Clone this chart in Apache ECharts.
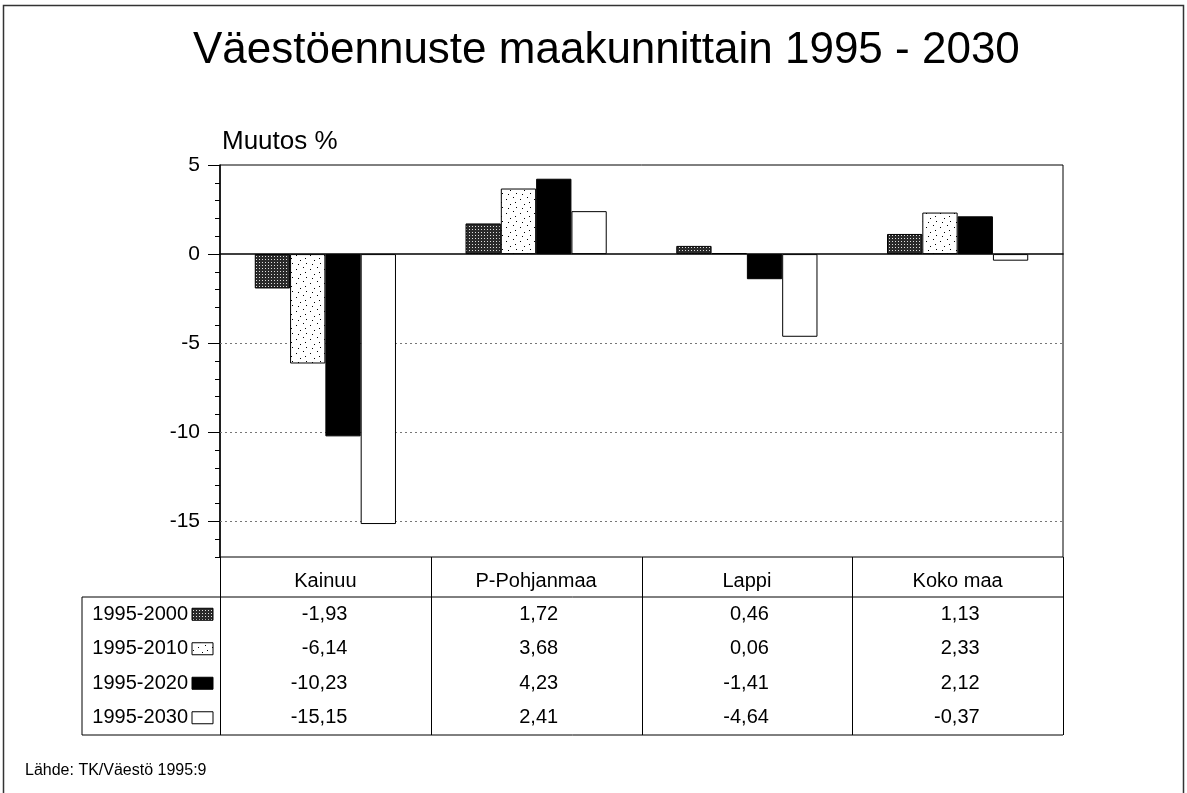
<!DOCTYPE html>
<html>
<head>
<meta charset="utf-8">
<title>Väestöennuste maakunnittain 1995 - 2030</title>
<script src="https://cdn.jsdelivr.net/npm/echarts@6/dist/echarts.min.js"></script>
<style>
html, body { margin: 0; padding: 0; background: #fff; }
#chart1 { width: 1187px; height: 793px; }
</style>
</head>
<body>
<div id="chart1"></div>
<script>
// data
const regions = ['Kainuu', 'P-Pohjanmaa', 'Lappi', 'Koko maa'];
const periods = ['1995-2000', '1995-2010', '1995-2020', '1995-2030'];
const v2000 = [-1.93, 1.72, 0.46, 1.13];
const v2010 = [-6.14, 3.68, 0.06, 2.33];
const v2020 = [-10.23, 4.23, -1.41, 2.12];
const v2030 = [-15.15, 2.41, -4.64, -0.37];
const majorTicks = [5, 0, -5, -10, -15];
const gridValues = [-5, -10, -15];
const yMin = -17, yMax = 5;

const FONT = 'Liberation Sans, Arial, Helvetica, sans-serif';

// fill patterns like the old b/w print
function makePattern(size, bg, fg, dots) {
  const c = document.createElement('canvas');
  c.width = size; c.height = size;
  const ctx = c.getContext('2d');
  ctx.fillStyle = bg;
  ctx.fillRect(0, 0, size, size);
  ctx.fillStyle = fg;
  dots.forEach(function (d) { ctx.fillRect(d[0], d[1], 1, 1); });
  return { image: c, repeat: 'repeat' };
}
const hatch = makePattern(3, '#2a2a2a', '#e0e0e0', [[1, 1]]);
const dotted = makePattern(14, '#fff', '#000', [[2, 3], [9, 1], [6, 8], [12, 11], [4, 12], [11, 6]]);
const fills = [hatch, dotted, '#000', '#fff'];
const seriesData = [v2000, v2010, v2020, v2030];

const chart = echarts.init(document.getElementById('chart1'));

chart.setOption({
  animation: false,
  backgroundColor: '#fff',
  textStyle: { fontFamily: FONT, color: '#000' },
  title: {
    text: 'Väestöennuste maakunnittain 1995 - 2030',
    left: 188,
    top: 24,
    textStyle: { fontSize: 44, fontWeight: 'normal', color: '#000', fontFamily: FONT }
  },
  grid: {
    left: 220,
    top: 165,
    right: 124,
    bottom: 236,
    show: true,
    borderColor: '#000',
    borderWidth: 1,
    backgroundColor: 'transparent'
  },
  xAxis: {
    type: 'category',
    data: regions,
    axisLine: { show: true, onZero: true, lineStyle: { color: '#000', width: 1.5 } },
    axisTick: { show: false },
    axisLabel: { show: false },
    splitLine: { show: false }
  },
  yAxis: [{
    type: 'value',
    position: 'left',
    min: yMin,
    max: yMax,
    interval: 1,
    axisLine: { show: true, lineStyle: { color: '#000', width: 1.5 } },
    axisTick: { show: true, length: 5, lineStyle: { color: '#000' } },
    axisLabel: { show: false },
    splitLine: { show: false }
  }, {
    type: 'value',
    position: 'left',
    min: yMin,
    max: yMax,
    interval: 1,
    axisLine: { show: false },
    axisTick: { show: true, length: 12, customValues: majorTicks, lineStyle: { color: '#000' } },
    axisLabel: {
      show: true,
      customValues: majorTicks,
      margin: 20,
      fontSize: 21,
      color: '#000',
      fontFamily: FONT
    },
    splitLine: { show: false }
  }],
  series: periods.map(function (p, i) {
    const s = {
      name: p,
      type: 'bar',
      data: seriesData[i],
      barGap: '0%',
      barCategoryGap: '33%',
      z: 3,
      itemStyle: { color: fills[i], borderColor: '#000', borderWidth: 1 }
    };
    if (i === 0) {
      s.markLine = {
        silent: true,
        z: 1,
        symbol: 'none',
        label: { show: false },
        lineStyle: { color: '#777', type: [2, 3], width: 1 },
        data: gridValues.map(function (v) { return { yAxis: v }; })
      };
    }
    return s;
  })
});

// data table under the plot, laid out from the axis positions
const c0 = chart.convertToPixel({ xAxisIndex: 0 }, regions[0]);
const c1 = chart.convertToPixel({ xAxisIndex: 0 }, regions[1]);
const band = c1 - c0;
const gLeft = c0 - band / 2;
const gRight = gLeft + band * regions.length;
const gBottom = chart.convertToPixel({ yAxisIndex: 0 }, yMin);
const gTop = chart.convertToPixel({ yAxisIndex: 0 }, yMax);

const headerH = 40;
const rowH = 34.5;
const boxLeft = 82;
const headBottom = gBottom + headerH;
const tableBottom = headBottom + rowH * periods.length;

const lineStyle = { stroke: '#000', lineWidth: 1 };
const g = [];

for (let k = 0; k <= regions.length; k++) {
  const x = Math.round(gLeft + k * band) + 0.5;
  g.push({ type: 'line', shape: { x1: x, y1: gBottom, x2: x, y2: tableBottom }, style: lineStyle, silent: true });
}
g.push({ type: 'line', shape: { x1: boxLeft, y1: headBottom, x2: boxLeft, y2: tableBottom }, style: lineStyle, silent: true });
g.push({ type: 'line', shape: { x1: boxLeft, y1: headBottom, x2: gRight, y2: headBottom }, style: lineStyle, silent: true });
g.push({ type: 'line', shape: { x1: boxLeft, y1: tableBottom, x2: gRight, y2: tableBottom }, style: lineStyle, silent: true });

regions.forEach(function (r, j) {
  const cx = gLeft + band * (j + 0.5);
  g.push({
    type: 'text', silent: true,
    x: cx, y: gBottom + headerH / 2 + 4,
    style: { text: r, fontSize: 20, fontFamily: FONT, fill: '#000', align: 'center', verticalAlign: 'middle' }
  });
  seriesData.forEach(function (arr, i) {
    g.push({
      type: 'text', silent: true,
      x: cx + 22, y: headBottom + rowH * (i + 0.5),
      style: { text: arr[j].toFixed(2).replace('.', ','), fontSize: 20, fontFamily: FONT, fill: '#000', align: 'right', verticalAlign: 'middle' }
    });
  });
});

periods.forEach(function (p, i) {
  const cy = headBottom + rowH * (i + 0.5);
  g.push({
    type: 'text', silent: true,
    x: gLeft - 32, y: cy,
    style: { text: p, fontSize: 20, fontFamily: FONT, fill: '#000', align: 'right', verticalAlign: 'middle' }
  });
  g.push({
    type: 'rect', silent: true,
    shape: { x: gLeft - 28, y: cy - 6, width: 21, height: 12 },
    style: { fill: fills[i], stroke: '#000', lineWidth: 1 }
  });
});

// axis caption, source, frame
g.push({
  type: 'text', silent: true,
  x: gLeft + 2, y: gTop - 23,
  style: { text: 'Muutos %', fontSize: 26, fontFamily: FONT, fill: '#000', align: 'left', verticalAlign: 'middle' }
});
g.push({
  type: 'text', silent: true,
  x: 25, y: 771,
  style: { text: 'Lähde: TK/Väestö 1995:9', fontSize: 16, fontFamily: FONT, fill: '#000', align: 'left', verticalAlign: 'middle' }
});
g.push({
  type: 'rect', silent: true,
  shape: { x: 3.5, y: 5.5, width: 1180, height: 800 },
  style: { fill: 'none', stroke: '#333', lineWidth: 1.5 }
});

chart.setOption({ graphic: g });
</script>
</body>
</html>
